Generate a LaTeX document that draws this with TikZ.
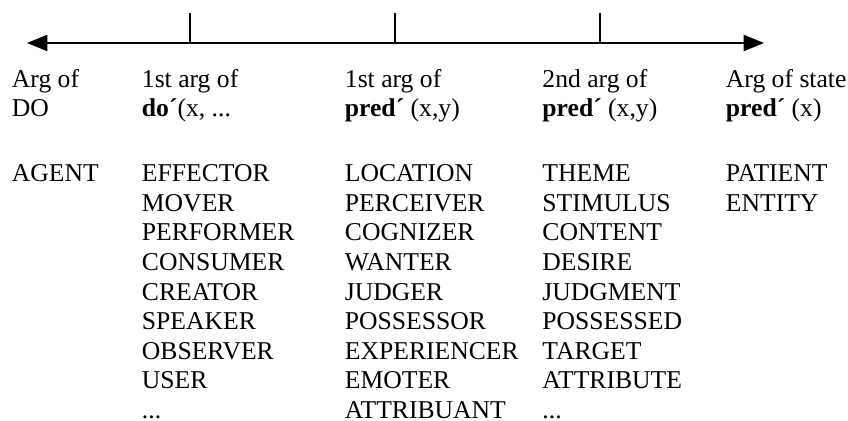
\documentclass[tikz,border=0pt]{standalone}
\usepackage{fontspec}
\setmainfont{Liberation Serif}
\usetikzlibrary{arrows.meta}

\begin{document}
\begin{tikzpicture}[
    x=0.468pt, y=-0.468pt,
    every node/.style={font=\fontsize{12}{13.85}\selectfont, align=left, anchor=base west, inner sep=0pt},
    scale line/.style={{Triangle[length=9.5pt,width=7.5pt]}-{Triangle[length=9.5pt,width=7.5pt]}, line width=0.95pt},
    tick/.style={line width=0.95pt}
]
\useasboundingbox (0,0) rectangle (848,421);

% the scale with its three marks
\coordinate (left) at (27,43);
\coordinate (right) at (764,43);
\draw[scale line] (left) -- (right);
\foreach \x/\n in {190/m1, 395/m2, 600/m3} {
    \coordinate (\n) at (\x,43);
    \draw[tick] (\n) -- ++(0,-30);
}

% column heads (placed by the baseline of their last line)
\node (arg)    at (11.5,116.7)  {Arg of\\DO};
\node (doarg)  at (141.5,116.7) {1st arg of\\\textbf{do´}(x, ...};
\node (first)  at (344.5,116.7) {1st arg of\\\textbf{pred´} (x,y)};
\node (second) at (542,116.7)   {2nd arg of\\\textbf{pred´} (x,y)};
\node (state)  at (725.5,116.7) {Arg of state\\\textbf{pred´} (x)};

% roles under each head
\node (agent)    at (11.5,181.7)  {AGENT};
\node (effector) at (141.5,418.4) {EFFECTOR\\MOVER\\PERFORMER\\CONSUMER\\CREATOR\\SPEAKER\\OBSERVER\\USER\\...};
\node (location) at (344.5,418.4) {LOCATION\\PERCEIVER\\COGNIZER\\WANTER\\JUDGER\\POSSESSOR\\EXPERIENCER\\EMOTER\\ATTRIBUANT};
\node (theme)    at (542,418.4)   {THEME\\STIMULUS\\CONTENT\\DESIRE\\JUDGMENT\\POSSESSED\\TARGET\\ATTRIBUTE\\...};
\node (patient)  at (725.5,211.3) {PATIENT\\ENTITY};
\end{tikzpicture}
\end{document}
